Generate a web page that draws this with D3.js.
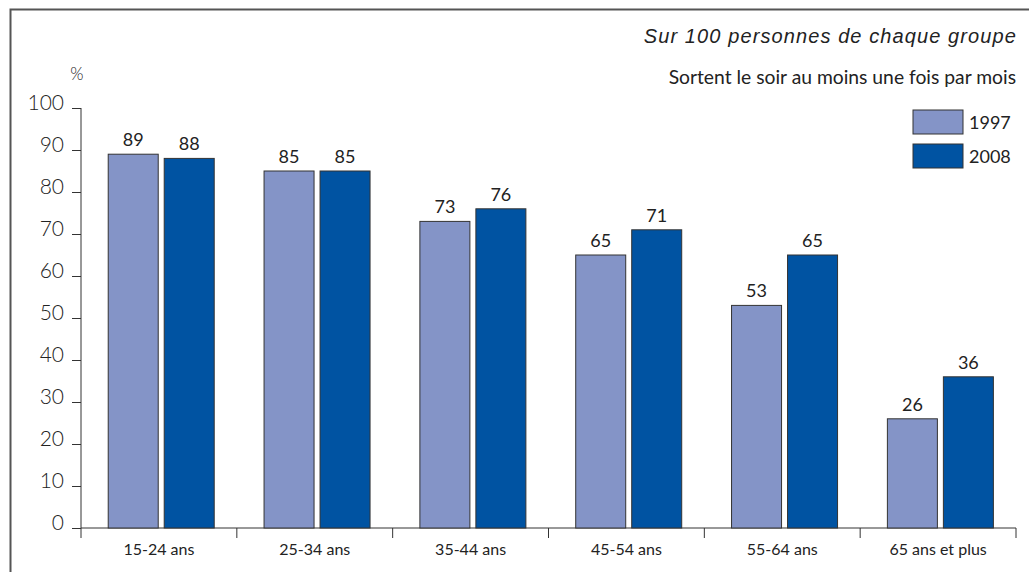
<!DOCTYPE html>
<html><head><meta charset="utf-8">
<script src="https://cdn.jsdelivr.net/npm/d3@7/dist/d3.min.js"></script>
<style>body{margin:0;background:#fff}svg{display:block}text{font-family:Lato,"Open Sans",sans-serif;fill:#222}</style>
</head><body><svg id="c" width="1029" height="572"></svg>
<script>
const categories = ["15-24 ans","25-34 ans","35-44 ans","45-54 ans","55-64 ans","65 ans et plus"];
const v1997 = [89,85,73,65,53,26];
const v2008 = [88,85,76,71,65,36];
const seriesNames = ["1997","2008"];
const yTicks = [0,10,20,30,40,50,60,70,80,90,100];
const colors = ["#8494c7","#0053a2"];

const svg = d3.select("#c");
// frame
svg.append("path").attr("d","M10.5,572 V9.5 H1029").attr("fill","none").attr("stroke","#555").attr("stroke-width",2);

const x = d3.scaleBand().domain(categories).range([81,1016]).paddingInner(0).paddingOuter(0);
const y = d3.scaleLinear().domain([0,100]).range([528,108]);
const xs = d3.scaleBand().domain(seriesNames).range([0,106]).paddingInner(0.107);

// y axis
const ya = svg.append("g").attr("transform","translate(81,0)").call(d3.axisLeft(y).tickValues(yTicks).tickSize(9).tickPadding(8));
ya.select(".domain").attr("stroke","#333").attr("d","M-0,108 V528");
ya.selectAll(".tick line").attr("stroke","#333");
ya.selectAll("text").style("font-size","21px").style("font-weight","300").attr("fill","#444").attr("dy","0.05em");

// x axis
const xa = svg.append("g").attr("transform","translate(0,528)").call(d3.axisBottom(x).tickSize(0).tickPadding(16));
xa.select(".domain").attr("stroke","#333").attr("d","M81,0 H1016");
xa.selectAll("text").style("font-size","16px").attr("fill","#222");
const bounds = d3.range(categories.length+1).map(i=>81+i*x.bandwidth());
svg.append("g").selectAll("line").data(bounds).join("line")
  .attr("x1",d=>d).attr("x2",d=>d).attr("y1",528).attr("y2",538).attr("stroke","#333");

const data = categories.map((c,i)=>({c, vals:[v1997[i],v2008[i]]}));
const off = (x.bandwidth()-106)/2 + 2.3;
const g = svg.append("g");
data.forEach(d=>{
  d.vals.forEach((v,j)=>{
    const bx = x(d.c)+off+xs(seriesNames[j]);
    g.append("rect").attr("x",bx).attr("y",y(v)).attr("width",xs.bandwidth()).attr("height",y(0)-y(v))
      .attr("fill",colors[j]).attr("stroke","#333").attr("stroke-width",1);
    g.append("text").attr("x",bx+xs.bandwidth()/2).attr("y",y(v)-8).attr("text-anchor","middle")
      .style("font-size","18px").text(v);
  });
});

svg.append("text").attr("x",77).attr("y",80).attr("text-anchor","middle").style("font-size","17px").style("font-weight","300").attr("fill","#444").text("%");
svg.append("text").attr("x",1017).attr("y",43).attr("text-anchor","end").style("font-family","'Liberation Sans',Arial,sans-serif").style("font-size","20px").style("letter-spacing","1.1px").style("font-style","italic").attr("fill","#333").text("Sur 100 personnes de chaque groupe");
svg.append("text").attr("x",1016).attr("y",84).attr("text-anchor","end").style("font-size","19.3px").attr("fill","#222").text("Sortent le soir au moins une fois par mois");

const lg = svg.append("g");
seriesNames.forEach((s,j)=>{
  lg.append("rect").attr("x",913).attr("y",110+j*34).attr("width",50).attr("height",24).attr("fill",colors[j]).attr("stroke","#333");
  lg.append("text").attr("x",969).attr("y",129+j*34).attr("text-anchor","start").style("font-size","18px").text(s);
});
</script></body></html>
